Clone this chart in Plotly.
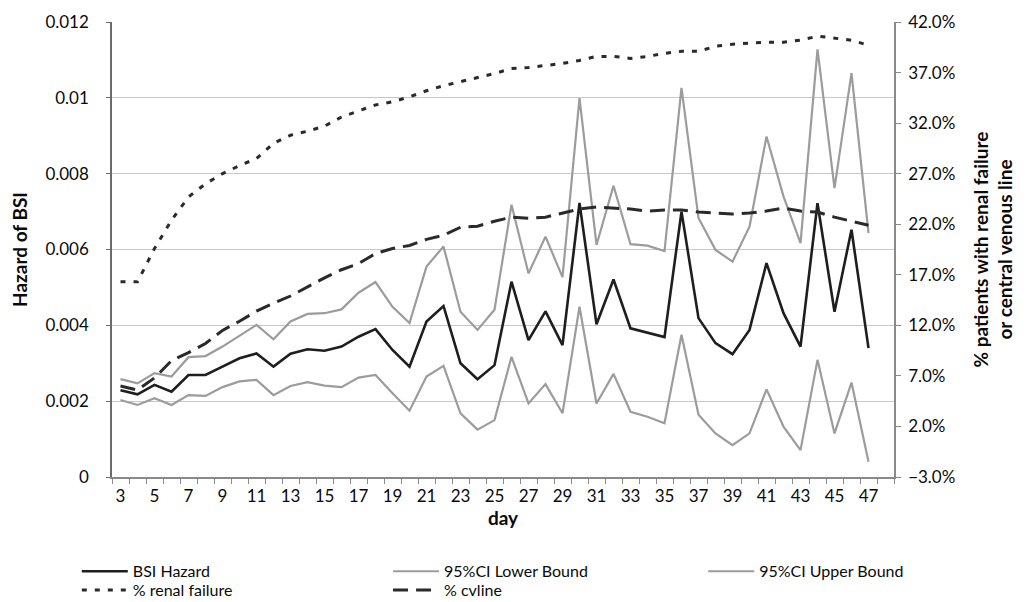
import plotly.graph_objects as go

days = list(range(3, 48))

bsi_hazard = [0.00229, 0.00218, 0.00243, 0.00225, 0.00269, 0.00269, 0.00291, 0.00313, 0.00326, 0.00291,
              0.00325, 0.00337, 0.00333, 0.00344, 0.00370, 0.00390, 0.00335, 0.00291, 0.00410, 0.00451,
              0.00300, 0.00258, 0.00295, 0.00515, 0.00361, 0.00437, 0.00348, 0.00723, 0.00403, 0.00521,
              0.00392, 0.00380, 0.00369, 0.00700, 0.00419, 0.00353, 0.00324, 0.00388, 0.00564, 0.00432,
              0.00344, 0.00722, 0.00436, 0.00652, 0.00340]

ci_lower = [0.00203, 0.00190, 0.00208, 0.00190, 0.00216, 0.00214, 0.00237, 0.00252, 0.00256, 0.00216,
            0.00240, 0.00250, 0.00241, 0.00237, 0.00262, 0.00269, 0.00221, 0.00175, 0.00265, 0.00293,
            0.00168, 0.00125, 0.00150, 0.00317, 0.00194, 0.00245, 0.00168, 0.00449, 0.00194, 0.00272,
            0.00172, 0.00159, 0.00142, 0.00375, 0.00164, 0.00115, 0.00084, 0.00115, 0.00231, 0.00133,
            0.00071, 0.00309, 0.00115, 0.00249, 0.00040]

ci_upper = [0.00258, 0.00247, 0.00274, 0.00265, 0.00316, 0.00319, 0.00344, 0.00372, 0.00401, 0.00363,
            0.00410, 0.00430, 0.00432, 0.00442, 0.00486, 0.00514, 0.00449, 0.00406, 0.00555, 0.00608,
            0.00436, 0.00388, 0.00441, 0.00718, 0.00537, 0.00634, 0.00527, 0.00999, 0.00612, 0.00768,
            0.00614, 0.00610, 0.00596, 0.01026, 0.00683, 0.00599, 0.00568, 0.00660, 0.00898, 0.00740,
            0.00617, 0.01128, 0.00762, 0.01065, 0.00643]

pct_renal = [16.3, 16.3, 19.6, 22.4, 24.7, 26.0, 27.0, 27.8, 28.5, 30.0,
             30.8, 31.2, 31.7, 32.6, 33.2, 33.8, 34.1, 34.6, 35.2, 35.7,
             36.1, 36.5, 36.9, 37.4, 37.5, 37.7, 37.9, 38.2, 38.6, 38.6,
             38.4, 38.6, 38.9, 39.1, 39.1, 39.6, 39.8, 39.9, 40.0, 40.0,
             40.2, 40.6, 40.4, 40.2, 39.7]

pct_cvline = [6.0, 5.6, 6.8, 8.5, 9.3, 10.2, 11.5, 12.4, 13.4, 14.2,
              14.9, 15.8, 16.7, 17.5, 18.1, 19.1, 19.6, 19.9, 20.5, 20.9,
              21.7, 21.8, 22.3, 22.7, 22.6, 22.7, 23.1, 23.5, 23.7, 23.6,
              23.5, 23.3, 23.4, 23.4, 23.2, 23.1, 23.0, 23.1, 23.3, 23.6,
              23.3, 23.2, 22.7, 22.3, 21.9]

x_tick_vals = list(range(3, 48, 2))
x_tick_text = [str(v) for v in x_tick_vals]

FONT = "Lato"
TXT = "#0a0a0a"
dark = "#1e1e1e"
grey = "#9c9c9c"

fig = go.Figure()
fig.add_trace(go.Scatter(x=days, y=bsi_hazard, name="BSI Hazard", mode="lines", legend="legend",
                         line=dict(color=dark, width=2.6)))
fig.add_trace(go.Scatter(x=days, y=ci_lower, name="95%CI Lower Bound", mode="lines", legend="legend2",
                         line=dict(color=grey, width=2.2)))
fig.add_trace(go.Scatter(x=days, y=ci_upper, name="95%CI Upper Bound", mode="lines", legend="legend3",
                         line=dict(color=grey, width=2.2)))
fig.add_trace(go.Scatter(x=days, y=pct_renal, name="% renal failure", mode="lines", yaxis="y2",
                         legend="legend4", line=dict(color="#2a2a2a", width=3, dash="5px,8px")))
fig.add_trace(go.Scatter(x=days, y=pct_cvline, name="% cvline", mode="lines", yaxis="y2",
                         legend="legend5", line=dict(color="#2a2a2a", width=3, dash="15px,8px")))

legend_common = dict(orientation="v", xanchor="left", yanchor="top", itemwidth=46,
                     font=dict(family=FONT, size=16, color=TXT), bgcolor="rgba(0,0,0,0)",
                     borderwidth=0, tracegroupgap=0)
row1, row2 = -0.170, -0.211
col1, col2, col3 = -0.045, 0.353, 0.756

# the page body adds an 8px offset, so the figure is sized 8px smaller
fig.update_layout(
    width=1022, height=594,
    margin=dict(l=104, r=136, t=14, b=125, autoexpand=False),
    paper_bgcolor="white", plot_bgcolor="white",
    font=dict(family=FONT, size=17, color=TXT),
    showlegend=True,
    legend=dict(x=col1, y=row1, **legend_common),
    legend2=dict(x=col2, y=row1, **legend_common),
    legend3=dict(x=col3, y=row1, **legend_common),
    legend4=dict(x=col1, y=row2, **legend_common),
    legend5=dict(x=col2, y=row2, **legend_common),
    xaxis=dict(range=[2.5, 48.5], tickmode="array", tickvals=x_tick_vals, ticktext=x_tick_text,
               ticks="", showgrid=False, showline=True, linecolor="#8a8a8a", linewidth=1.5,
               zeroline=False, tickfont=dict(size=17, family=FONT, color=TXT), ticklabelstandoff=3,
               title=dict(text="<b>day</b>", font=dict(size=19, family=FONT, color=TXT), standoff=0),
               minor=dict(tickmode="linear", tick0=2.5, dtick=1, ticks="outside", ticklen=5,
                          tickcolor="#8a8a8a", showgrid=False)),
    yaxis=dict(range=[0, 0.012], tick0=0, dtick=0.002, showgrid=True, gridcolor="#c8c8c8",
               gridwidth=1.2, showline=True, linecolor="#6a6a6a", linewidth=1.5, zeroline=False,
               ticks="outside", ticklen=4, tickcolor="#6a6a6a",
               tickfont=dict(size=17, family=FONT, color=TXT), ticklabelstandoff=14,
               title=dict(text="<b>Hazard of BSI</b>", font=dict(size=19, family=FONT, color=TXT),
                          standoff=14)),
    yaxis2=dict(range=[-3, 42], tick0=-3, dtick=5, overlaying="y", side="right",
                showgrid=False, showline=True, linecolor="#8a8a8a", linewidth=1.5, zeroline=False,
                ticks="outside", ticklen=5, tickcolor="#8a8a8a", tickformat=".1f", ticksuffix="%",
                tickfont=dict(size=17, family=FONT, color=TXT), ticklabelstandoff=4,
                title=dict(text="<b>% patients with renal failure<br>or central venous line</b>",
                           font=dict(size=19, family=FONT, color=TXT), standoff=20)),
)

fig.write_html("out.html")
